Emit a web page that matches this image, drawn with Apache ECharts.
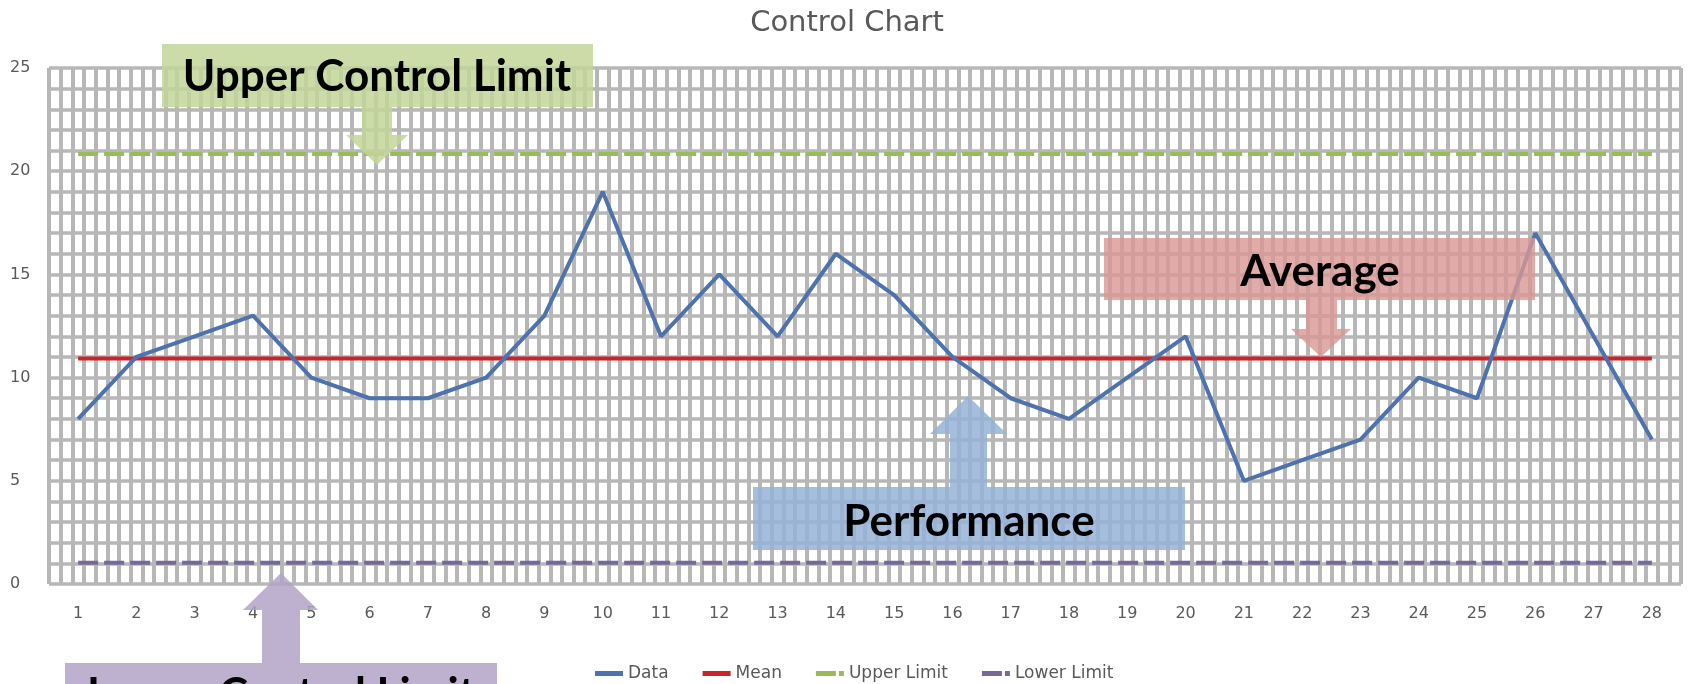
<!DOCTYPE html>
<html>
<head>
<meta charset="utf-8">
<title>Control Chart</title>
<script src="https://cdn.jsdelivr.net/npm/echarts@6/dist/echarts.min.js"></script>
<style>
html, body {
  margin: 0;
  padding: 0;
  background: #ffffff;
}
#chart {
  width: 1694px;
  height: 684px;
}
</style>
</head>
<body>
<div id="chart"></div>
<script>
// 数据
const categories = ["1", "2", "3", "4", "5", "6", "7", "8", "9", "10", "11", "12", "13", "14",
  "15", "16", "17", "18", "19", "20", "21", "22", "23", "24", "25", "26", "27", "28"];
const dataValues = [8, 11, 12, 13, 10, 9, 9, 10, 13, 19, 12, 15, 12, 16,
  14, 11, 9, 8, 10, 12, 5, 6, 7, 10, 9, 17, 12, 7];
const meanValues = [10.93, 10.93, 10.93, 10.93, 10.93, 10.93, 10.93, 10.93, 10.93, 10.93,
  10.93, 10.93, 10.93, 10.93, 10.93, 10.93, 10.93, 10.93, 10.93, 10.93,
  10.93, 10.93, 10.93, 10.93, 10.93, 10.93, 10.93, 10.93];
const upperValues = [20.83, 20.83, 20.83, 20.83, 20.83, 20.83, 20.83, 20.83, 20.83, 20.83,
  20.83, 20.83, 20.83, 20.83, 20.83, 20.83, 20.83, 20.83, 20.83, 20.83,
  20.83, 20.83, 20.83, 20.83, 20.83, 20.83, 20.83, 20.83];
const lowerValues = [1.03, 1.03, 1.03, 1.03, 1.03, 1.03, 1.03, 1.03, 1.03, 1.03,
  1.03, 1.03, 1.03, 1.03, 1.03, 1.03, 1.03, 1.03, 1.03, 1.03,
  1.03, 1.03, 1.03, 1.03, 1.03, 1.03, 1.03, 1.03];
const seriesNames = ["Data", "Mean", "Upper Limit", "Lower Limit"];
const yTicks = { min: 0, max: 25, step: 5 };

const gridColor = "#b7b7b7";
const labelFont = "DejaVu Sans";
const calloutFont = "bold 44px Lato";

// 图例图标：实线 / 虚线
const solidIcon = "path://M0,0 H28 V5 H0 Z";
const dashIcon = "path://M0,0 H20 V5 H0 Z M23,0 H28 V5 H23 Z";

let chart = echarts.init(document.getElementById("chart"));

// 标注框和箭头
function callout(box, arrow, label, color) {
  return [
    { type: "rect", z: 100, shape: box, style: { fill: color } },
    { type: "polygon", z: 100, shape: { points: arrow }, style: { fill: color } },
    {
      type: "text", z: 101,
      style: {
        text: label.text, x: label.x, y: label.y, font: calloutFont, fill: "#000",
        textAlign: "center", textVerticalAlign: "middle"
      }
    }
  ];
}

const graphics = [].concat(
  callout({ x: 162, y: 44, width: 431, height: 63 },
    [[362, 107], [392, 107], [392, 135], [408, 135], [377, 165], [346, 135], [362, 135]],
    { text: "Upper Control Limit", x: 377, y: 77 }, "rgba(194,214,154,0.85)"),
  callout({ x: 1104, y: 238, width: 431, height: 62 },
    [[1306, 300], [1337, 300], [1337, 329], [1351, 329], [1321, 357], [1291, 329], [1306, 329]],
    { text: "Average", x: 1320, y: 272 }, "rgba(217,150,148,0.8)"),
  callout({ x: 753, y: 487, width: 432, height: 63 },
    [[950, 487], [987, 487], [987, 434], [1007, 434], [968, 396], [930, 434], [950, 434]],
    { text: "Performance", x: 969, y: 522 }, "rgba(149,179,215,0.85)"),
  callout({ x: 65, y: 663, width: 432, height: 63 },
    [[262, 663], [300, 663], [300, 610], [318, 610], [281, 573], [243, 610], [262, 610]],
    { text: "Lower Control Limit", x: 281, y: 695 }, "rgba(179,162,199,0.85)")
);

chart.setOption({
  animation: false,
  title: {
    text: "Control Chart",
    left: "center",
    top: 4,
    textStyle: { fontFamily: labelFont, fontSize: 29, fontWeight: "normal", color: "#595959" }
  },
  legend: {
    left: 590,
    top: 660,
    itemWidth: 28,
    itemHeight: 5,
    itemGap: 34,
    textStyle: { fontFamily: labelFont, fontSize: 17, color: "#595959" },
    data: [
      { name: seriesNames[0], icon: solidIcon },
      { name: seriesNames[1], icon: solidIcon },
      { name: seriesNames[2], icon: dashIcon },
      { name: seriesNames[3], icon: dashIcon }
    ]
  },
  grid: { left: 49, right: 13, top: 68, bottom: 100, containLabel: false },
  xAxis: [
    {
      type: "category",
      data: categories,
      boundaryGap: true,
      axisLine: { show: false },
      axisTick: { show: false },
      axisLabel: { margin: 22, fontFamily: labelFont, fontSize: 16, color: "#595959" },
      splitLine: { show: false }
    },
    {
      // 竖向网格线，每个类目分5格
      type: "value",
      min: 0,
      max: categories.length * 5,
      interval: 1,
      show: true,
      axisLine: { show: false },
      axisTick: { show: false },
      axisLabel: { show: false },
      splitLine: { show: true, lineStyle: { color: gridColor, width: 4 } }
    }
  ],
  yAxis: {
    type: "value",
    min: yTicks.min,
    max: yTicks.max,
    interval: yTicks.step,
    axisLine: { show: false },
    axisTick: { show: false },
    axisLabel: { align: "left", margin: 39, fontFamily: labelFont, fontSize: 16, color: "#595959" },
    splitLine: { show: true, lineStyle: { color: gridColor, width: 3.5 } },
    minorTick: { show: false, splitNumber: 5 },
    minorSplitLine: { show: true, lineStyle: { color: gridColor, width: 3.5 } }
  },
  series: [
    {
      name: seriesNames[0], type: "line", data: dataValues, symbol: "none",
      lineStyle: { color: "#4d72ad", width: 4 }, itemStyle: { color: "#4d72ad" }, z: 5
    },
    {
      name: seriesNames[1], type: "line", data: meanValues, symbol: "none",
      lineStyle: { color: "#cc2229", width: 4 }, itemStyle: { color: "#cc2229" }, z: 4
    },
    {
      name: seriesNames[2], type: "line", data: upperValues, symbol: "none",
      lineStyle: { color: "#9bbb59", width: 4, type: [20, 6] }, itemStyle: { color: "#9bbb59" }, z: 4
    },
    {
      name: seriesNames[3], type: "line", data: lowerValues, symbol: "none",
      lineStyle: { color: "#76699a", width: 4, type: [20, 6] }, itemStyle: { color: "#76699a" }, z: 4
    }
  ],
  graphic: graphics
});
</script>
</body>
</html>
